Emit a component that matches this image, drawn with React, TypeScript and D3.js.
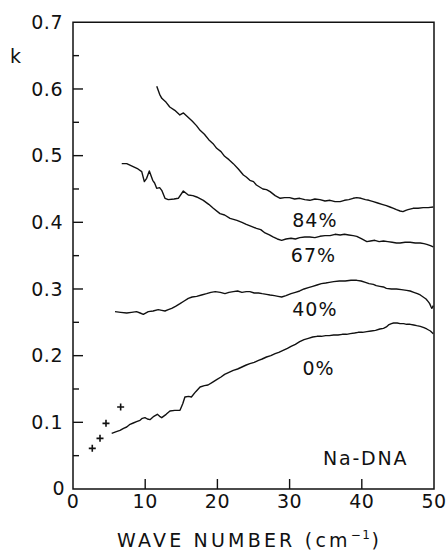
import React from "react";
import * as d3 from "d3";

const xTicks = [0, 10, 20, 30, 40, 50];
const yTicks = [0, 0.1, 0.2, 0.3, 0.4, 0.5, 0.6, 0.7];
const yMinorTicks = [0.05, 0.15, 0.25, 0.35, 0.45, 0.55, 0.65];

const s84: [number, number][] = [
  [11.6, 0.604], [12.0, 0.592], [12.3, 0.586], [12.9, 0.580], [13.4, 0.573],
  [14.1, 0.568], [14.8, 0.561], [15.3, 0.564], [15.9, 0.558], [16.5, 0.552],
  [17.1, 0.545], [17.6, 0.538], [18.2, 0.532], [18.8, 0.524], [19.4, 0.518],
  [19.9, 0.511], [20.5, 0.506], [21.0, 0.499], [21.6, 0.494], [22.2, 0.488],
  [22.9, 0.480], [23.6, 0.471], [24.0, 0.468], [24.5, 0.463], [25.0, 0.461],
  [25.4, 0.456], [26.3, 0.450], [26.8, 0.449], [27.3, 0.446], [28.0, 0.440],
  [28.7, 0.436], [29.3, 0.437], [30.0, 0.437], [30.7, 0.435], [31.4, 0.436],
  [32.1, 0.434], [32.8, 0.433], [33.5, 0.435], [34.2, 0.434], [34.9, 0.432],
  [35.6, 0.433], [36.3, 0.431], [37.0, 0.431], [37.6, 0.433], [38.2, 0.434],
  [38.8, 0.436], [39.3, 0.437], [39.9, 0.436], [40.5, 0.434], [41.0, 0.433],
  [41.6, 0.431], [42.2, 0.429], [42.8, 0.427], [43.4, 0.425], [43.9, 0.423],
  [44.4, 0.421], [44.8, 0.419], [45.3, 0.417], [45.7, 0.416], [46.1, 0.418],
  [46.4, 0.419], [47.1, 0.421], [47.8, 0.421], [48.5, 0.422], [49.2, 0.422],
  [49.9, 0.423],
];

const s67: [number, number][] = [
  [6.75, 0.488], [7.44, 0.488], [8.4, 0.483], [9.0, 0.480], [9.52, 0.476],
  [9.88, 0.461], [10.2, 0.466], [10.57, 0.477], [11.04, 0.463], [11.3, 0.459],
  [11.59, 0.451], [12.0, 0.452], [12.29, 0.448], [12.74, 0.436], [13.2, 0.434],
  [14.0, 0.435], [14.58, 0.436], [15.28, 0.447], [15.97, 0.441], [16.6, 0.440],
  [17.13, 0.438], [18.05, 0.433], [18.8, 0.427], [19.43, 0.421], [20.36, 0.413],
  [21.0, 0.411], [21.75, 0.406], [22.7, 0.403], [23.4, 0.400], [24.0, 0.397],
  [24.7, 0.394], [25.4, 0.391], [26.0, 0.389], [26.6, 0.384], [27.2, 0.381],
  [27.7, 0.378], [28.3, 0.375], [28.9, 0.373], [29.5, 0.375], [30.2, 0.376],
  [30.8, 0.375], [31.4, 0.377], [32.1, 0.378], [32.8, 0.378], [33.5, 0.377],
  [34.2, 0.379], [34.9, 0.380], [35.6, 0.380], [36.3, 0.382], [37.0, 0.381],
  [37.6, 0.382], [38.2, 0.381], [38.8, 0.380], [39.3, 0.379], [40.0, 0.375],
  [40.7, 0.371], [41.2, 0.372], [41.8, 0.373], [42.4, 0.371], [43.0, 0.372],
  [43.6, 0.371], [44.2, 0.370], [44.8, 0.369], [45.3, 0.369], [46.0, 0.370],
  [46.7, 0.370], [47.4, 0.369], [48.1, 0.369], [48.6, 0.368], [49.0, 0.367],
  [49.5, 0.365], [49.9, 0.363],
];

const s40: [number, number][] = [
  [5.82, 0.266], [6.6, 0.265], [7.44, 0.264], [8.1, 0.265], [8.8, 0.266],
  [9.3, 0.264], [9.74, 0.262], [10.43, 0.266], [11.1, 0.267], [11.8, 0.269],
  [12.3, 0.268], [12.74, 0.267], [13.2, 0.269], [13.67, 0.271], [14.2, 0.274],
  [14.82, 0.278], [15.4, 0.282], [15.97, 0.286], [16.5, 0.288], [17.13, 0.289],
  [17.8, 0.291], [18.5, 0.293], [19.1, 0.295], [19.7, 0.296], [20.4, 0.295],
  [21.05, 0.293], [21.6, 0.295], [22.2, 0.296], [22.8, 0.297], [23.4, 0.295],
  [24.0, 0.296], [24.5, 0.296], [25.1, 0.294], [25.7, 0.294], [26.2, 0.293],
  [26.8, 0.292], [27.3, 0.291], [27.9, 0.290], [28.4, 0.289], [28.9, 0.288],
  [29.5, 0.290], [30.2, 0.293], [30.8, 0.295], [31.4, 0.297], [32.0, 0.300],
  [32.6, 0.302], [33.2, 0.304], [33.8, 0.306], [34.4, 0.308], [35.0, 0.309],
  [35.5, 0.310], [36.1, 0.311], [36.9, 0.312], [37.7, 0.312], [38.5, 0.313],
  [39.3, 0.313], [39.9, 0.312], [40.5, 0.310], [41.0, 0.308], [41.6, 0.307],
  [42.0, 0.305], [42.5, 0.304], [43.0, 0.303], [43.4, 0.301], [44.1, 0.300],
  [44.8, 0.300], [45.5, 0.299], [46.2, 0.298], [46.7, 0.297], [47.2, 0.295],
  [47.7, 0.293], [48.1, 0.291], [48.5, 0.288], [48.9, 0.285], [49.2, 0.281],
  [49.4, 0.278], [49.6, 0.273], [49.7, 0.271], [49.9, 0.275],
];

const s0: [number, number][] = [
  [5.36, 0.0835], [6.0, 0.086], [6.51, 0.088], [7.0, 0.091], [7.44, 0.093],
  [7.9, 0.097], [8.35, 0.099], [8.8, 0.101], [9.28, 0.103], [9.6, 0.106],
  [9.97, 0.107], [10.3, 0.105], [10.66, 0.104], [11.2, 0.109], [11.68, 0.112],
  [12.0, 0.109], [12.29, 0.107], [12.9, 0.112], [13.43, 0.117], [14.1, 0.118],
  [14.82, 0.118], [15.2, 0.128], [15.5, 0.138], [16.0, 0.139], [16.4, 0.138],
  [17.0, 0.146], [17.6, 0.153], [18.2, 0.155], [18.7, 0.156], [19.3, 0.160],
  [19.9, 0.164], [20.5, 0.168], [21.0, 0.172], [21.6, 0.175], [22.2, 0.178],
  [22.8, 0.180], [23.4, 0.183], [24.0, 0.186], [24.5, 0.188], [25.1, 0.190],
  [25.7, 0.193], [26.2, 0.195], [26.8, 0.198], [27.4, 0.200], [28.0, 0.203],
  [28.5, 0.205], [29.1, 0.208], [29.7, 0.211], [30.2, 0.214], [30.8, 0.217],
  [31.4, 0.221], [32.0, 0.224], [32.6, 0.226], [33.2, 0.228], [33.8, 0.229],
  [34.4, 0.229], [35.0, 0.230], [35.5, 0.230], [36.1, 0.231], [36.7, 0.231],
  [37.3, 0.232], [37.9, 0.232], [38.4, 0.233], [39.0, 0.234], [39.5, 0.235],
  [40.1, 0.235], [40.7, 0.236], [41.3, 0.237], [41.9, 0.238], [42.5, 0.240],
  [43.0, 0.241], [43.4, 0.243], [43.7, 0.246], [44.1, 0.248], [44.4, 0.249],
  [44.9, 0.249], [45.3, 0.248], [45.8, 0.248], [46.2, 0.247], [46.7, 0.247],
  [47.2, 0.246], [47.6, 0.245], [48.1, 0.244], [48.6, 0.242], [49.0, 0.240],
  [49.5, 0.237], [49.9, 0.233],
];

const plusPoints: [number, number][] = [
  [2.67, 0.061], [3.74, 0.076], [4.57, 0.0985], [6.6, 0.123],
];

const seriesLabels = [
  { text: "84%", x: 33.5, y: 0.393 },
  { text: "67%", x: 33.3, y: 0.341 },
  { text: "40%", x: 33.5, y: 0.260 },
  { text: "0%", x: 34.0, y: 0.171 },
];

export default function App() {
  const W = 448;
  const H = 550;
  const left = 73;
  const right = 434;
  const top = 22.3;
  const bottom = 489;
  const x = d3.scaleLinear().domain([0, 50]).range([left, right]);
  const y = d3.scaleLinear().domain([0, 0.7]).range([bottom, top]);
  const line = d3
    .line<[number, number]>()
    .x((d) => x(d[0]))
    .y((d) => y(d[1]));
  const font = "'DejaVu Sans', sans-serif";
  const series = [s84, s67, s40, s0];
  return (
    <svg
      width={W}
      height={H}
      style={{ position: "absolute", left: 0, top: 0, background: "#fff" }}
    >
      <rect x={0} y={0} width={W} height={H} fill="#fff" />
      <path
        d={`M${left},${top}H${right}V${bottom}H${left}Z`}
        fill="none"
        stroke="#111"
        strokeWidth={1.5}
      />
      {yTicks.slice(1, -1).map((t) => (
        <line key={"ym" + t} x1={left} x2={left + 10} y1={y(t)} y2={y(t)} stroke="#111" strokeWidth={1.4} />
      ))}
      {yMinorTicks.map((t) => (
        <line key={"yn" + t} x1={left} x2={left + 6} y1={y(t)} y2={y(t)} stroke="#111" strokeWidth={1.4} />
      ))}
      {xTicks.slice(1, -1).map((t) => (
        <line key={"xm" + t} x1={x(t)} x2={x(t)} y1={bottom} y2={bottom - 10} stroke="#111" strokeWidth={1.4} />
      ))}
      {yTicks.map((t) => (
        <text
          key={"yl" + t}
          x={t === 0 ? left - 8 : left - 10}
          y={t === 0 ? y(t) - 1 : y(t)}
          dy="0.35em"
          textAnchor="end"
          fontFamily={font}
          fontSize={19}
          letterSpacing={0.5}
          fill="#111"
        >
          {t === 0 ? "0" : d3.format(".1f")(t)}
        </text>
      ))}
      {xTicks.map((t) => (
        <text
          key={"xl" + t}
          x={x(t)}
          y={bottom + 19}
          textAnchor="middle"
          fontFamily={font}
          fontSize={19}
          letterSpacing={0.5}
          fill="#111"
        >
          {t}
        </text>
      ))}
      <text x={10} y={63} fontFamily={font} fontSize={19} fill="#111">
        k
      </text>
      <text x={117} y={547} fontFamily={font} fontSize={19} letterSpacing={3.2} fill="#111">
        WAVE NUMBER (cm
        <tspan dy={-8} fontSize={12} letterSpacing={1.5}>
          −1
        </tspan>
        <tspan dy={8}>)</tspan>
      </text>
      <text x={323} y={465} fontFamily={font} fontSize={19} letterSpacing={1.8} fill="#111">
        Na-DNA
      </text>
      {seriesLabels.map((l) => (
        <text
          key={l.text}
          x={x(l.x)}
          y={y(l.y)}
          textAnchor="middle"
          fontFamily={font}
          fontSize={19}
          letterSpacing={1}
          fill="#111"
        >
          {l.text}
        </text>
      ))}
      {series.map((s, i) => (
        <path key={"s" + i} d={line(s) || ""} fill="none" stroke="#111" strokeWidth={1.4} strokeLinejoin="round" />
      ))}
      {plusPoints.map((p, i) => (
        <path
          key={"p" + i}
          d={`M${x(p[0]) - 3.5},${y(p[1])}h7M${x(p[0])},${y(p[1]) - 3.5}v7`}
          stroke="#111"
          strokeWidth={1.6}
        />
      ))}
    </svg>
  );
}
